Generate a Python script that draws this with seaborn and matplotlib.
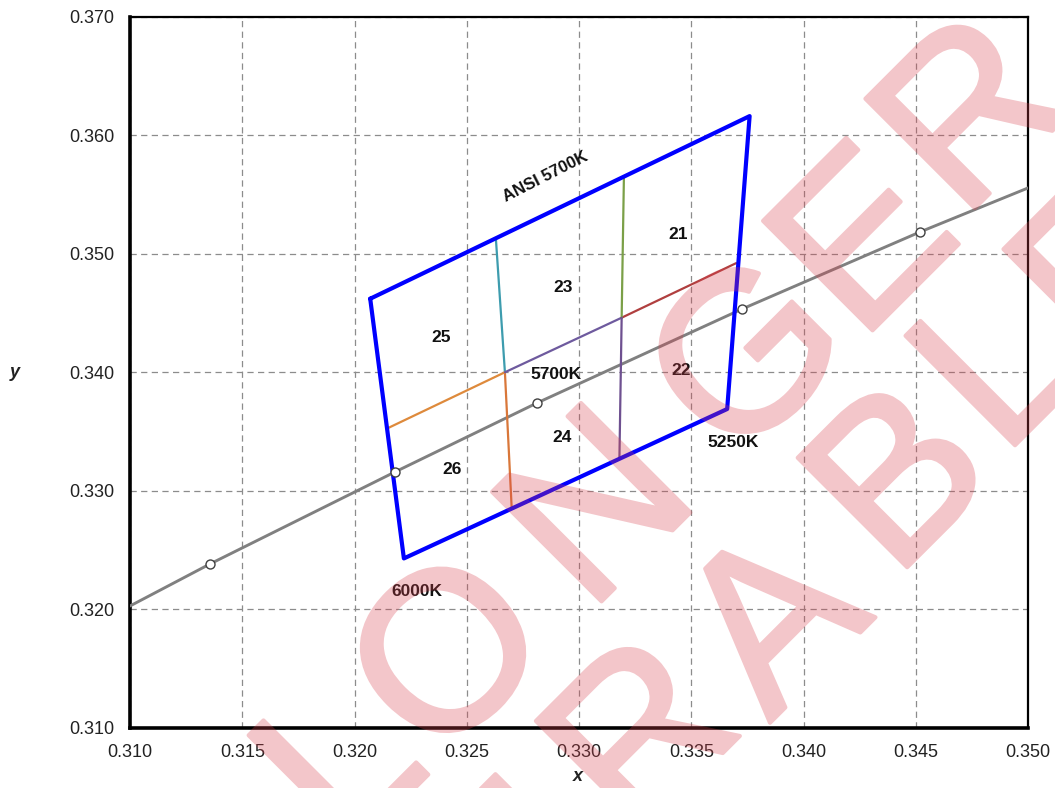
import numpy as np
import pandas as pd
import matplotlib
matplotlib.use("Agg")
import matplotlib.pyplot as plt
import matplotlib.patheffects as pe
from matplotlib.ticker import MultipleLocator, FormatStrFormatter
import seaborn as sns

# ---------------- data ----------------
# Planckian locus (grey curve)
locus_x = [0.3100, 0.31356, 0.3218, 0.32813, 0.33726, 0.34519, 0.3500]
locus_y = [0.32029, 0.32383, 0.33159, 0.33741, 0.34533, 0.35183, 0.35554]
# open circle markers on the locus
marker_x = [0.31356, 0.3218, 0.32813, 0.33726, 0.34519]
marker_y = [0.32383, 0.33159, 0.33741, 0.34533, 0.35183]

# ANSI 5700K quadrangle corners (closed)
quad_x = [0.3207, 0.3376, 0.3366, 0.3222, 0.3207]
quad_y = [0.3462, 0.3616, 0.3369, 0.3243, 0.3462]

# inner bin division segments
seg_x0 = [0.3263, 0.3267, 0.3215, 0.3267, 0.3319, 0.3320, 0.3319]
seg_y0 = [0.3512, 0.3400, 0.3353, 0.3400, 0.3446, 0.3564, 0.3446]
seg_x1 = [0.3267, 0.3270, 0.3267, 0.3319, 0.3370, 0.3319, 0.3318]
seg_y1 = [0.3400, 0.3286, 0.3400, 0.3446, 0.3492, 0.3446, 0.3327]
seg_colors = ["#3d9cae", "#d9773a", "#de8a3c", "#6e5a9e", "#b03f3f", "#7ba048", "#6e5090"]

# text labels
label_text = ["21", "23", "25", "5700K", "22", "24", "26", "5250K", "6000K"]
label_x = [0.33442, 0.32927, 0.32385, 0.32898, 0.33457, 0.32926, 0.32436, 0.33687, 0.32278]
label_y = [0.35163, 0.34716, 0.34295, 0.33985, 0.34013, 0.33451, 0.33176, 0.33409, 0.32155]
title_label = "ANSI 5700K"
title_pos = (0.32849, 0.35647)

x_ticks = [0.310, 0.315, 0.320, 0.325, 0.330, 0.335, 0.340, 0.345, 0.350]
y_ticks = [0.310, 0.320, 0.330, 0.340, 0.350, 0.360, 0.370]

watermark_lines = ["NO LONGER", "PROCURABLE"]

# ---------------- style ----------------
sns.set_style("white")
plt.rcParams["font.family"] = ["Liberation Sans", "DejaVu Sans"]

W, H = 1055, 788
fig = plt.figure(figsize=(W / 100, H / 100), dpi=100)
ax = fig.add_axes([130 / W, 1 - 728 / H, 898 / W, 711.5 / H])

ax.set_xlim(x_ticks[0], x_ticks[-1])
ax.set_ylim(y_ticks[0], y_ticks[-1])
ax.set_xticks(x_ticks)
ax.set_yticks(y_ticks)
ax.xaxis.set_major_formatter(FormatStrFormatter("%.3f"))
ax.yaxis.set_major_formatter(FormatStrFormatter("%.3f"))
ax.xaxis.set_minor_locator(MultipleLocator(0.001))
ax.yaxis.set_minor_locator(MultipleLocator(0.002))

ax.grid(True, which="major", color="#8c8c8c", linewidth=0.9, linestyle=(0, (5, 3.5)))
ax.set_axisbelow(True)

ax.tick_params(axis="both", which="major", direction="out", length=4.5, width=1.2,
               labelsize=13, labelcolor="#222222", pad=7, color="black")
ax.tick_params(axis="both", which="minor", direction="in", length=3, width=1, color="black")
ax.tick_params(top=False, right=False, which="both")
for side, lw in (("left", 2.6), ("bottom", 2.6), ("top", 1.6), ("right", 1.6)):
    ax.spines[side].set_visible(True)
    ax.spines[side].set_color("black")
    ax.spines[side].set_linewidth(lw)

# locus
loc_df = pd.DataFrame({"x": locus_x, "y": locus_y})
sns.lineplot(data=loc_df, x="x", y="y", ax=ax, color="#808080", linewidth=2.1,
             sort=False, estimator=None, zorder=3)
mk_df = pd.DataFrame({"x": marker_x, "y": marker_y})
sns.scatterplot(data=mk_df, x="x", y="y", ax=ax, s=42, color="white",
                edgecolor="#404040", linewidth=1.0, zorder=6)

# inner segments
for i in range(len(seg_x0)):
    sdf = pd.DataFrame({"x": [seg_x0[i], seg_x1[i]], "y": [seg_y0[i], seg_y1[i]]})
    sns.lineplot(data=sdf, x="x", y="y", ax=ax, color=seg_colors[i], linewidth=1.6,
                 sort=False, estimator=None, zorder=4)

# quadrangle
q_df = pd.DataFrame({"x": quad_x, "y": quad_y})
sns.lineplot(data=q_df, x="x", y="y", ax=ax, color="#0000ff", linewidth=3.0,
             sort=False, estimator=None, zorder=5)

for t, lx, ly in zip(label_text, label_x, label_y):
    ax.text(lx, ly, t, ha="center", va="center", fontsize=12.5, fontweight="bold",
            color="#111111", zorder=7)
ax.text(title_pos[0], title_pos[1], title_label, ha="center", va="center", fontsize=12,
        fontweight="bold", color="#111111", rotation=27, rotation_mode="anchor", zorder=7)

ax.set_xlabel("x", fontsize=13, fontweight="bold", fontstyle="italic", color="#222222")
ax.set_ylabel("y", fontsize=13, fontweight="bold", fontstyle="italic", color="#222222",
              rotation=0, va="center")
ax.xaxis.set_label_coords(0.499, -0.056)
ax.yaxis.set_label_coords(-0.128, 0.50)

# ---------------- watermark (semi-transparent, rotated 45 deg) ----------------
wm_rgb = (0.85, 0.25, 0.30)
wm_alpha = 0.30
wm_em = 225.0  # font size in pixels


def fade(im, dpi):
    im = im.copy()
    im[..., 3] *= wm_alpha
    return im, 0, 0


# letter centres in a 45-degree frame: s = along baseline, p = across (pixels)
wm_s = [[-741, -552, None, -300, -146, 63, 276, 440, 605],
        [-996, -820, -632, -443, -261, -68, 108, 297, 447, 590]]
wm_p = [[770, 770, 770, 770, 770, 770, 770, 770, 756],
        [975, 975, 975, 975, 972, 963, 975, 962, 952, 960]]
r2 = np.sqrt(2.0)
for line, s_list, p_list in zip(watermark_lines, wm_s, wm_p):
    for ch, sc, pc in zip(line, s_list, p_list):
        if sc is None or ch == " ":
            continue
        pb = pc + 0.358 * wm_em  # baseline offset from letter centre
        px = (sc + pb) / r2
        py = (pb - sc) / r2
        txt = fig.text(px / W, 1 - py / H, ch, fontsize=wm_em * 0.72, color=wm_rgb,
                       rotation=45, rotation_mode="anchor", ha="center", va="baseline",
                       zorder=20)
        txt.set_path_effects([pe.withStroke(linewidth=3.0, foreground=wm_rgb)])
        txt.set_agg_filter(fade)

fig.savefig("out.png", dpi=100)
